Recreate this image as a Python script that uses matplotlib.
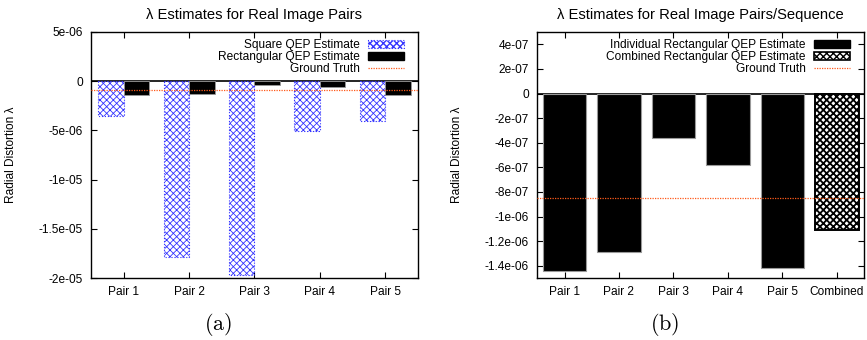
import numpy as np
import matplotlib
matplotlib.use("Agg")
import matplotlib.pyplot as plt
from matplotlib.patches import Patch
from matplotlib.lines import Line2D
from matplotlib.ticker import MultipleLocator, FuncFormatter

pairs = ["Pair 1", "Pair 2", "Pair 3", "Pair 4", "Pair 5"]
square_qep = [-3.5e-06, -1.79e-05, -1.965e-05, -5.1e-06, -4.05e-06]
rect_qep = [-1.445e-06, -1.29e-06, -3.65e-07, -5.8e-07, -1.42e-06]
combined_label = "Combined"
combined_qep = -1.105e-06
ground_truth = -8.5e-07

plt.rcParams["font.family"] = ["Liberation Sans", "DejaVu Sans"]
plt.rcParams["mathtext.fontset"] = "cm"

BLUE = "#3535ff"
GT_COLOR = "#ff5a1a"
FS = 8.6


def fmt(v, _):
    return "%g" % (v if abs(v) > 1e-15 else 0)


def style_axes(ax, step):
    ax.yaxis.set_major_locator(MultipleLocator(step))
    ax.yaxis.set_major_formatter(FuncFormatter(fmt))
    ax.tick_params(direction="in", top=True, right=True, length=4, width=0.8,
                   labelsize=FS, pad=6)
    for s in ax.spines.values():
        s.set_linewidth(1.0)
    ax.axhline(0, color="black", lw=1.2, zorder=1)
    ax.set_ylabel("Radial Distortion λ", fontsize=FS)
    ax.yaxis.set_label_coords(-0.228, 0.5)


def add_legend(ax, handles, labels):
    ax.legend(handles, labels, loc="upper right", bbox_to_anchor=(0.979, 1.0),
              frameon=False, markerfirst=False, fontsize=FS, handlelength=3.0,
              handleheight=0.62, labelspacing=-0.02, borderaxespad=0.3,
              borderpad=0.3, handletextpad=0.7)


fig = plt.figure(figsize=(8.67, 3.4), dpi=100)

# (a) square vs rectangular
ax1 = fig.add_axes([0.105, 0.182, 0.377, 0.724])
x = np.arange(1, len(pairs) + 1)
w = 0.39
with plt.rc_context({"hatch.linewidth": 0.6}):
    ax1.bar(x - w / 2, square_qep, width=w, fill=False, hatch="xxxxx",
            edgecolor=BLUE, linestyle=":", lw=0.8, zorder=2)
    sq_handle = Patch(fill=False, hatch="xxxxx", edgecolor=BLUE,
                      linestyle=":", lw=0.8)
ax1.bar(x + w / 2, rect_qep, width=w, color="black", edgecolor="0.6",
        lw=0.6, zorder=2)
ax1.axhline(ground_truth, color=GT_COLOR, ls=(0, (1, 1)), lw=0.9, zorder=3)
ax1.set_xlim(0.5, len(pairs) + 0.5)
ax1.set_ylim(-2e-05, 5e-06)
ax1.set_xticks(x)
ax1.set_xticklabels(pairs)
style_axes(ax1, 5e-06)
ax1.set_title("λ Estimates for Real Image Pairs", fontsize=10.6, pad=9)
h1 = [sq_handle,
      Patch(facecolor="black", edgecolor="black"),
      Line2D([], [], color=GT_COLOR, ls=(0, (1, 1)), lw=0.9)]
add_legend(ax1, h1, ["Square QEP Estimate", "Rectangular QEP Estimate",
                     "Ground Truth"])

# (b) individual vs combined
ax2 = fig.add_axes([0.6197, 0.182, 0.377, 0.724])
labels_b = pairs + [combined_label]
xb = np.arange(1, len(labels_b) + 1)
ax2.bar(x, rect_qep, width=0.8, color="black", edgecolor="0.6", lw=0.8, zorder=2)
with plt.rc_context({"hatch.linewidth": 1.3}):
    ax2.bar(xb[-1], combined_qep, width=0.8, facecolor="white", hatch="xxxxx",
            edgecolor="black", lw=1.4, zorder=2)
    comb_handle = Patch(facecolor="white", hatch="xxxxx", edgecolor="black",
                        lw=1.2)
ax2.axhline(ground_truth, color=GT_COLOR, ls=(0, (1, 1)), lw=0.9, zorder=3)
ax2.set_xlim(0.5, len(labels_b) + 0.5)
ax2.set_ylim(-1.5e-06, 5e-07)
ax2.set_xticks(xb)
ax2.set_xticklabels(labels_b)
style_axes(ax2, 2e-07)
ax2.set_title("λ Estimates for Real Image Pairs/Sequence", fontsize=10.6, pad=9)
h2 = [Patch(facecolor="black", edgecolor="black"),
      comb_handle,
      Line2D([], [], color=GT_COLOR, ls=(0, (1, 1)), lw=0.9)]
add_legend(ax2, h2, ["Individual Rectangular QEP Estimate",
                     "Combined Rectangular QEP Estimate", "Ground Truth"])

fig.text(0.252, 0.045, r"$\mathrm{(a)}$", ha="center", va="center", fontsize=16)
fig.text(0.767, 0.045, r"$\mathrm{(b)}$", ha="center", va="center", fontsize=16)

fig.savefig("out.png", dpi=100)
